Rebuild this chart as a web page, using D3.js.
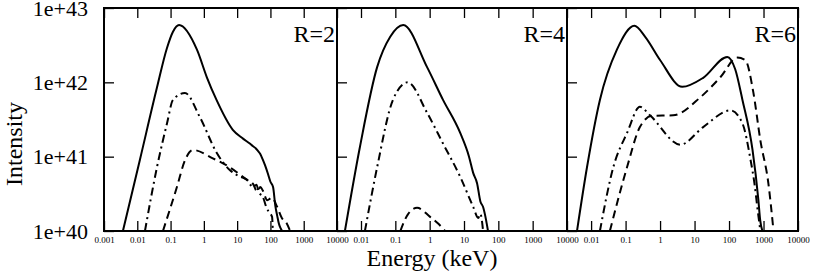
<!DOCTYPE html>
<html>
<head>
  <meta charset="UTF-8">
  <title>Spectra R=2,4,6</title>
  <script src="https://cdn.jsdelivr.net/npm/d3@7"></script>
  <style>
    body { margin: 0; background: #fff; }
    text { font-family: "Liberation Serif", "Times New Roman", serif; fill: #000; }
    .tick line { stroke: #000; stroke-width: 1.3; }
    .curve { fill: none; stroke: #000; stroke-width: 2; }
  </style>
</head>
<body>
<svg id="svg" width="813" height="273"></svg>
<script>

// values: [energy keV, intensity]
var r2Solid = [[0.0037,1e40],[0.012,9.1e40],[0.039,8.5e41],[0.078,2.9e42],[0.118,4.8e42],[0.18,5.9e42],
  [0.62,2.75e42],[1.23,1.17e42],[2.4,5.8e41],[7.4,2.3e41],[15,1.75e41],[24,1.5e41],[30,1.38e41],[36,1.3e41],
  [42,1.2e41],[50,1.08e41],[59,9.1e40],[70,7.5e40],[85,5.8e40],[100,4.6e40],[120,3.9e40],[140,2.2e40],
  [160,1.6e40],[180,1.25e40],[200,1.1e40],[224,1e40]];
var r2DashDot = [[0.017,1e40],[0.039,7.2e40],[0.078,2.8e41],[0.118,5.8e41],[0.27,7.2e41],[0.76,3.4e41],
  [2.45,1.12e41],[6,6.6e40],[12,5.4e40],[19.5,4.9e40],[30,3.9e40],[38,4.2e40],[45,3.3e40],[59,2.9e40],
  [75,2.1e40],[90,1.8e40],[112,1.55e40],[118,1e40]];
var r2Dashed = [[0.059,1e40],[0.155,3.9e40],[0.27,8.9e40],[0.47,1.23e41],[1.86,9.5e40],[6,7.2e40],
  [19.5,4.9e40],[30,4.3e40],[40,3.4e40],[50,3.9e40],[59,3.5e40],[80,2.6e40],[110,2.8e40],[160,2.1e40],
  [220,1.5e40],[300,1.3e40],[390,1e40]];

var r4Solid = [[0.0034,1e40],[0.0093,1.35e41],[0.0295,1.6e42],[0.071,4.1e42],[0.17,5.9e42],[0.84,1.6e42],
  [2.45,5.8e41],[7.7,2.1e41],[14,1.0e41],[18.6,6.0e40],[24,4.4e40],[30,2.5e40],[36,2.1e40],[44,1.4e40],[50,1e40]];
var r4DashDot = [[0.013,1e40],[0.0295,7.2e40],[0.085,5.8e41],[0.23,1.0e42],[0.84,3.9e41],[2.45,1.5e41],
  [7.7,5.4e40],[18.6,2.1e40],[26,1.5e40],[30,1.7e40],[36,1e40]];
var r4Dashed = [[0.14,1e40],[0.23,1.66e40],[0.43,2.05e40],[1.03,1.55e40],[1.8,1.25e40],[2.8,1e40]];

var r6Solid = [[0.0039,1e40],[0.0076,7.2e40],[0.018,5.8e41],[0.056,2.75e42],[0.18,5.75e42],[0.37,4.1e42],
  [1.0,2.0e42],[4.4,8.7e41],[17.8,1.15e42],[89,2.2e42],[151,1.5e42],[245,5.8e41],[480,1.23e41],
  [710,2.6e40],[800,1.4e40],[930,1e40]];
var r6Dashed = [[0.035,1e40],[0.11,7.2e40],[0.26,2.5e41],[0.59,3.55e41],[2.4,3.6e41],[14.8,6.3e41],
  [56,1.17e42],[174,2.15e42],[295,2.0e42],[510,7.2e41],[810,1.66e41],[1380,4.4e40],[1950,1e40]];
var r6DashDot = [[0.018,1e40],[0.044,7.2e40],[0.111,2.1e41],[0.26,4.7e41],[0.51,3.6e41],[3.9,1.45e41],
  [17.8,2.5e41],[110,4.2e41],[245,2.8e41],[420,9.1e40],[560,4.0e40],[660,2.1e40],[810,1e40]];

var panelNames = ["R=2", "R=4", "R=6"];
var panelXmin = [0.001, 0.002, 0.002];
var xMax = 10000;
var xMajor1 = [0.001, 0.01, 0.1, 1, 10, 100, 1000, 10000];
var xMajor23 = [0.01, 0.1, 1, 10, 100, 1000, 10000];
var yMajor = [1e40, 1e41, 1e42, 1e43];

var panels = [
  { solid: r2Solid, dashdot: r2DashDot, dashed: r2Dashed },
  { solid: r4Solid, dashdot: r4DashDot, dashed: r4Dashed },
  { solid: r6Solid, dashdot: r6DashDot, dashed: r6Dashed }
];

var yTop = 8, yBot = 231;
var edges = [104, 337, 567, 798];

var svg = d3.select('#svg');

var y = d3.scaleLog().domain([1e40, 1e43]).range([yBot, yTop]);

// minor ticks 2..9 in every decade
function minors(lo, hi) {
  var out = [];
  for (var p = Math.floor(Math.log10(lo)); p < Math.log10(hi); p++) {
    for (var k = 2; k <= 9; k++) {
      var v = k * Math.pow(10, p);
      if (v > lo * 1.0001 && v < hi) out.push(v);
    }
  }
  return out;
}

var styles = { solid: null, dashed: "8,5", dashdot: "8,4,2,4" };

panels.forEach(function(pd, i) {
  var x0 = edges[i], x1 = edges[i + 1];
  var x = d3.scaleLog().domain([panelXmin[i], xMax]).range([x0, x1]);
  var g = svg.append('g');
  var labels = i == 0 ? xMajor1 : xMajor23;

  g.append('clipPath').attr('id', 'clip' + i)
    .append('rect').attr('x', x0).attr('y', yTop).attr('width', x1 - x0).attr('height', yBot - yTop);

  var line = d3.line()
    .x(function(d) { return x(d[0]); })
    .y(function(d) { return y(d[1]); })
    .curve(d3.curveMonotoneX);

  ['solid', 'dashdot', 'dashed'].forEach(function(k) {
    g.append('path')
      .attr('class', 'curve')
      .attr('clip-path', 'url(#clip' + i + ')')
      .attr('d', line(pd[k]))
      .attr('stroke-dasharray', styles[k]);
  });

  // bottom axis, ticks pointing inward
  var ax = g.append('g').attr('transform', 'translate(0,' + yBot + ')');
  ax.call(d3.axisBottom(x).tickValues(minors(panelXmin[i], xMax)).tickSize(-5).tickFormat(''));
  ax.call(d3.axisBottom(x).tickValues(labels).tickSize(-10).tickPadding(6).tickFormat(String));
  ax.selectAll('text').style('font-size', '9px');

  var at = g.append('g').attr('transform', 'translate(0,' + yTop + ')');
  at.call(d3.axisTop(x).tickValues(minors(panelXmin[i], xMax)).tickSize(-5).tickFormat(''));
  at.call(d3.axisTop(x).tickValues(labels).tickSize(-10).tickFormat(''));

  var ay = g.append('g').attr('transform', 'translate(' + x0 + ',0)');
  ay.call(d3.axisLeft(y).tickValues(minors(1e40, 1e43)).tickSize(-5).tickFormat(''));
  ay.call(d3.axisLeft(y).tickValues(yMajor).tickSize(-10).tickPadding(16)
    .tickFormat(i == 0 ? String : ''));
  ay.selectAll('text').style('font-size', '22px');

  g.selectAll('.domain').remove();

  g.append('rect')
    .attr('x', x0).attr('y', yTop).attr('width', x1 - x0).attr('height', yBot - yTop)
    .attr('fill', 'none').attr('stroke', '#000').attr('stroke-width', 2);

  g.append('text')
    .attr('x', x1 - 2).attr('y', 42)
    .attr('text-anchor', 'end')
    .style('font-size', '24px')
    .text(panelNames[i]);
});

svg.append('text')
  .attr('transform', 'translate(22,144)rotate(-90)')
  .attr('text-anchor', 'middle')
  .style('font-size', '24px')
  .text('Intensity');

svg.append('text')
  .attr('x', 432).attr('y', 266)
  .attr('text-anchor', 'middle')
  .style('font-size', '24px')
  .text('Energy (keV)');

</script>
</body>
</html>
